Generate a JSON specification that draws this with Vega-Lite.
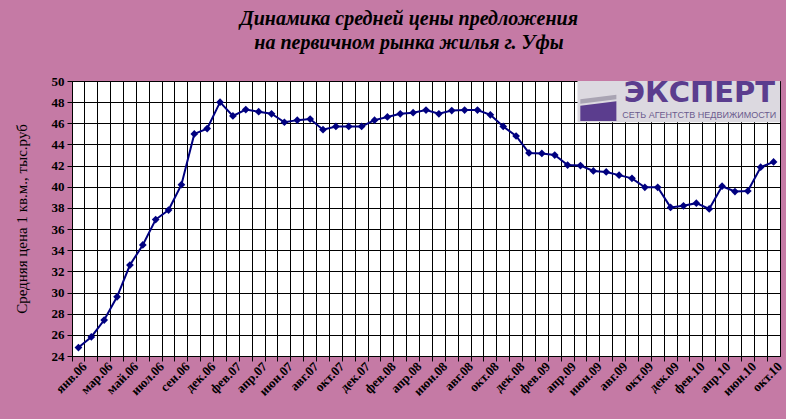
{
  "$schema": "https://vega.github.io/schema/vega-lite/v6.json",
  "autosize": {"type": "none"},
  "width": 708,
  "height": 275,
  "padding": {"left": 72, "top": 81, "right": 6, "bottom": 63},
  "background": "#c57aa5",
  "title": {
    "text": ["Динамика средней цены предложения", "на первичном рынка жилья г. Уфы"],
    "font": "Liberation Serif",
    "fontStyle": "italic",
    "fontWeight": "bold",
    "fontSize": 20,
    "lineHeight": 24,
    "color": "black",
    "anchor": "middle",
    "frame": "group",
    "dx": -17,
    "offset": 22
  },
  "config": {
    "view": {"stroke": "black", "strokeWidth": 1, "fill": "white"}
  },
  "data": {
    "values": [
      {"month": "янв.06", "price": 24.8},
      {"month": "фев.06", "price": 25.8},
      {"month": "мар.06", "price": 27.4},
      {"month": "апр.06", "price": 29.6},
      {"month": "май.06", "price": 32.6},
      {"month": "июн.06", "price": 34.5},
      {"month": "июл.06", "price": 36.9},
      {"month": "авг.06", "price": 37.8},
      {"month": "сен.06", "price": 40.2},
      {"month": "окт.06", "price": 45.0},
      {"month": "дек.06", "price": 45.5},
      {"month": "янв.07", "price": 48.0},
      {"month": "фев.07", "price": 46.7},
      {"month": "мар.07", "price": 47.3},
      {"month": "апр.07", "price": 47.1},
      {"month": "май.07", "price": 46.9},
      {"month": "июн.07", "price": 46.1},
      {"month": "июл.07", "price": 46.3},
      {"month": "авг.07", "price": 46.4},
      {"month": "сен.07", "price": 45.4},
      {"month": "окт.07", "price": 45.7},
      {"month": "ноя.07", "price": 45.7},
      {"month": "дек.07", "price": 45.7},
      {"month": "янв.08", "price": 46.3},
      {"month": "фев.08", "price": 46.6},
      {"month": "мар.08", "price": 46.9},
      {"month": "апр.08", "price": 47.0},
      {"month": "май.08", "price": 47.25},
      {"month": "июн.08", "price": 46.9},
      {"month": "июл.08", "price": 47.2},
      {"month": "авг.08", "price": 47.25},
      {"month": "сен.08", "price": 47.25},
      {"month": "окт.08", "price": 46.8},
      {"month": "ноя.08", "price": 45.7},
      {"month": "дек.08", "price": 44.8},
      {"month": "янв.09", "price": 43.2},
      {"month": "фев.09", "price": 43.15},
      {"month": "мар.09", "price": 43.0},
      {"month": "апр.09", "price": 42.05},
      {"month": "май.09", "price": 42.0},
      {"month": "июн.09", "price": 41.5},
      {"month": "июл.09", "price": 41.4},
      {"month": "авг.09", "price": 41.1},
      {"month": "сен.09", "price": 40.8},
      {"month": "окт.09", "price": 39.95},
      {"month": "ноя.09", "price": 39.95},
      {"month": "дек.09", "price": 38.05},
      {"month": "янв.10", "price": 38.2},
      {"month": "фев.10", "price": 38.45},
      {"month": "мар.10", "price": 37.9},
      {"month": "апр.10", "price": 40.05},
      {"month": "май.10", "price": 39.55},
      {"month": "июн.10", "price": 39.6},
      {"month": "сен.10", "price": 41.85},
      {"month": "окт.10", "price": 42.35}
    ]
  },
  "encoding": {
    "x": {
      "field": "month",
      "type": "ordinal",
      "sort": null,
      "scale": {
        "type": "band",
        "paddingInner": 0,
        "paddingOuter": 0,
        "domain": ["янв.06","фев.06","мар.06","апр.06","май.06","июн.06","июл.06","авг.06","сен.06","окт.06","дек.06","янв.07","фев.07","мар.07","апр.07","май.07","июн.07","июл.07","авг.07","сен.07","окт.07","ноя.07","дек.07","янв.08","фев.08","мар.08","апр.08","май.08","июн.08","июл.08","авг.08","сен.08","окт.08","ноя.08","дек.08","янв.09","фев.09","мар.09","апр.09","май.09","июн.09","июл.09","авг.09","сен.09","окт.09","ноя.09","дек.09","янв.10","фев.10","мар.10","апр.10","май.10","июн.10","сен.10","окт.10"]
      },
      "axis": {
        "title": null,
        "bandPosition": 0,
        "labelOffset": 6.4,
        "labelAngle": -45,
        "labelAlign": "right",
        "labelBaseline": "middle",
        "labelFont": "Liberation Serif",
        "labelFontWeight": "bold",
        "labelFontSize": 13,
        "labelColor": "black",
        "labelPadding": 3,
        "labelOverlap": false,
        "labelExpr": "round(datum.index * 54) % 2 == 0 ? datum.label : ''",
        "tickColor": "black",
        "tickSize": 5,
        "domainColor": "black",
        "grid": true,
        "gridColor": "black",
        "gridOpacity": 1,
        "gridWidth": 1
      }
    },
    "y": {
      "field": "price",
      "type": "quantitative",
      "scale": {"domain": [24, 50], "nice": false, "zero": false},
      "axis": {
        "title": "Средняя цена 1 кв.м., тыс.руб",
        "values": [24, 26, 28, 30, 32, 34, 36, 38, 40, 42, 44, 46, 48, 50],
        "titleFont": "Liberation Serif",
        "titleFontSize": 15,
        "titleFontWeight": "normal",
        "titleColor": "black",
        "titlePadding": 22,
        "labelFont": "Liberation Serif",
        "labelFontWeight": "bold",
        "labelFontSize": 13,
        "labelColor": "black",
        "labelPadding": 3,
        "labelFlush": false,
        "tickColor": "black",
        "tickSize": 5,
        "domainColor": "black",
        "grid": true,
        "gridColor": "black",
        "gridOpacity": 1,
        "gridWidth": 1
      }
    }
  },
  "layer": [
    {
      "mark": {"type": "line", "color": "#000080", "strokeWidth": 2},
      "encoding": {}
    },
    {
      "mark": {"type": "point", "shape": "diamond", "filled": true, "color": "#000080", "size": 60, "opacity": 1},
      "encoding": {}
    },
    {
      "transform": [{"filter": "datum.month == 'янв.06'"}],
      "mark": {"type": "rect", "color": "#dcd9e0", "opacity": 1, "xOffset": -3, "x2Offset": 6.5},
      "encoding": {
        "x": {"datum": "май.09"},
        "x2": {"datum": "окт.10"},
        "y": {"datum": 50},
        "y2": {"datum": 46.1}
      }
    },
    {
      "transform": [{"filter": "datum.month == 'янв.06'"}],
      "mark": {"type": "point", "shape": "M-1,-0.45 L1,-0.7 L1,-0.45 L-1,-0.2 Z", "filled": true, "color": "#a9a4b3", "size": 1300, "opacity": 1, "xOffset": 5},
      "encoding": {
        "x": {"datum": "июн.09"},
        "y": {"datum": 47.5}
      }
    },
    {
      "transform": [{"filter": "datum.month == 'янв.06'"}],
      "mark": {"type": "point", "shape": "M-1,-0.1 L1,-0.35 L1,0.75 L-1,0.75 Z", "filled": true, "color": "#5b3d8e", "size": 1300, "opacity": 1, "xOffset": 5},
      "encoding": {
        "x": {"datum": "июн.09"},
        "y": {"datum": 47.5}
      }
    },
    {
      "transform": [{"filter": "datum.month == 'янв.06'"}],
      "mark": {"type": "text", "text": "ЭКСПЕРТ", "font": "DejaVu Sans", "fontWeight": "bold", "fontSize": 29, "color": "#5b3d8e", "align": "center", "baseline": "middle", "dx": 3},
      "encoding": {
        "x": {"datum": "фев.10"},
        "y": {"datum": 48.85}
      }
    },
    {
      "transform": [{"filter": "datum.month == 'янв.06'"}],
      "mark": {"type": "text", "text": "СЕТЬ АГЕНТСТВ НЕДВИЖИМОСТИ", "font": "Liberation Sans", "fontSize": 9, "color": "#6b5b8e", "align": "center", "baseline": "middle", "dx": 3},
      "encoding": {
        "x": {"datum": "фев.10"},
        "y": {"datum": 46.75}
      }
    }
  ]
}
